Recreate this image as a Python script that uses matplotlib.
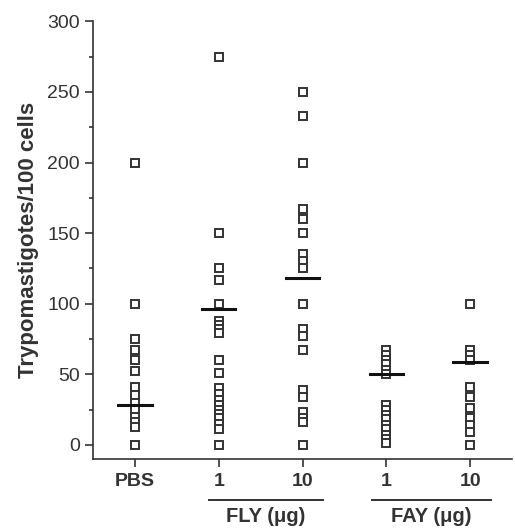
import numpy as np
import matplotlib.pyplot as plt
import matplotlib.transforms as mtransforms

plt.rcParams['font.family'] = ['Liberation Sans', 'DejaVu Sans']

# group names and per-group values (trypomastigotes / 100 cells)
groups = ['PBS', '1', '10', '1', '10']
pbs = [200, 100, 75, 67, 60, 52, 41, 35, 30, 25, 20, 16, 13, 0]
fly_1 = [275, 150, 125, 117, 100, 88, 85, 82, 79, 60, 51, 40, 36, 32, 28, 25, 22, 19, 15, 11, 0]
fly_10 = [250, 233, 200, 167, 160, 150, 135, 130, 125, 100, 82, 77, 67, 39, 34, 23, 19, 16, 0]
fay_1 = [67, 64, 60, 57, 53, 50, 28, 25, 21, 18, 14, 11, 7, 4, 1]
fay_10 = [100, 67, 64, 60, 41, 34, 26, 19, 14, 9, 0]
medians = [28, 96, 118, 50, 59]

series = [pbs, fly_1, fly_10, fay_1, fay_10]
col = '#333333'

fig = plt.figure(figsize=(5.15, 5.28), dpi=100)
ax = fig.add_axes([0.1806, 0.1307, 0.8136, 0.8288])

for i, vals in enumerate(series):
    xpos = i + 1
    ax.plot([xpos] * len(vals), vals, 's', ms=5.2, mfc='white', mec=col, mew=1.4, zorder=3)
    ax.plot([xpos - 0.2, xpos + 0.2], [medians[i], medians[i]], '-', color='#111111', lw=2.2, zorder=4)

ax.set_xlim(0.5, 5.5)
ax.set_ylim(-10, 300)
ax.set_yticks(np.arange(0, 301, 50))
ax.set_yticks(np.arange(25, 300, 50), minor=True)
ax.set_xticks(range(1, 6))
ax.set_xticklabels(groups, fontweight='bold', fontsize=14, color=col)
ax.tick_params(axis='y', labelsize=14, colors=col, length=6, width=1.2)
ax.tick_params(axis='y', which='minor', length=3, width=1.2, colors=col)
ax.tick_params(axis='x', length=6, width=1.2, colors=col, pad=4)
for s in ['top', 'right']:
    ax.spines[s].set_visible(False)
for s in ['left', 'bottom']:
    ax.spines[s].set_color(col)
    ax.spines[s].set_linewidth(1.2)

ax.set_ylabel('Trypomastigotes/100 cells', fontsize=16, fontweight='bold', color=col, labelpad=6)

# group brackets under the x axis
trans = mtransforms.blended_transform_factory(ax.transData, fig.transFigure)
for x0, x1, label in [(1.89, 3.24, 'FLY (μg)'), (3.83, 5.25, 'FAY (μg)')]:
    ax.plot([x0, x1], [0.053, 0.053], '-', color=col, lw=1.4, transform=trans, clip_on=False)
    ax.text((x0 + x1) / 2, 0.022, label, transform=trans,
            ha='center', va='center', fontsize=14.5, fontweight='bold', color=col)

fig.savefig('out.png', dpi=100)
